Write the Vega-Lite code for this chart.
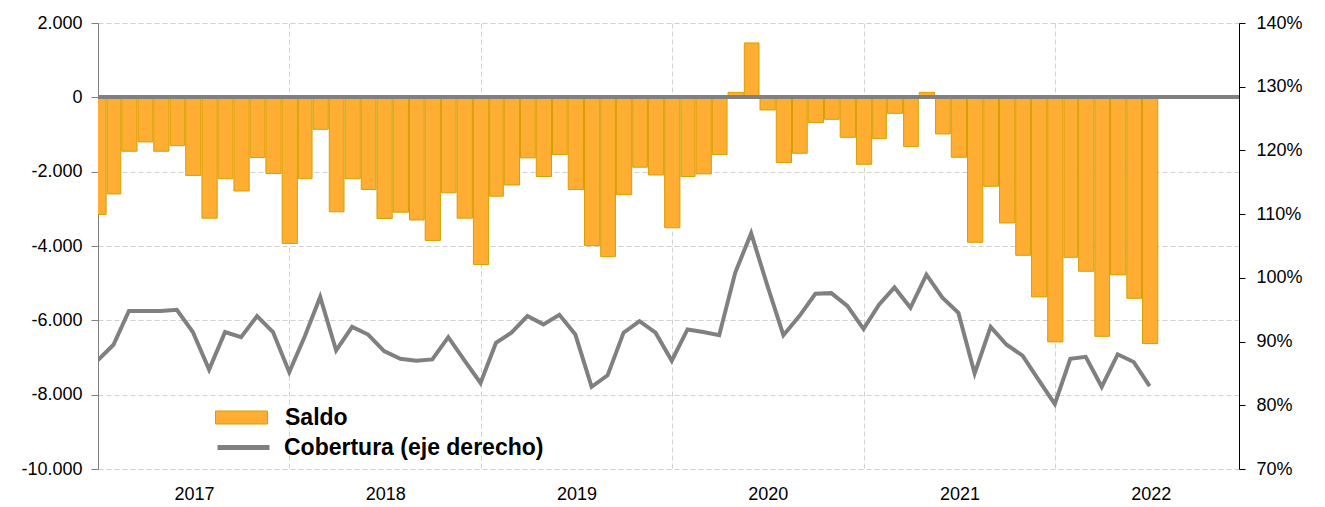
{
  "$schema": "https://vega.github.io/schema/vega-lite/v6.json",
  "width": 1141,
  "height": 446,
  "autosize": {"type": "none"},
  "padding": {"left": 98, "top": 23, "right": 86, "bottom": 38},
  "config": {
    "font": "Liberation Sans",
    "view": {"stroke": null},
    "axis": {"labelFont": "Liberation Sans", "labelColor": "#000000", "labelFontSize": 18}
  },
  "data": {
    "values": [
      {"d": "2017-01-01", "saldo": -3150, "cob": 0.871},
      {"d": "2017-02-01", "saldo": -2600, "cob": 0.895},
      {"d": "2017-03-01", "saldo": -1450, "cob": 0.948},
      {"d": "2017-04-01", "saldo": -1200, "cob": 0.948},
      {"d": "2017-05-01", "saldo": -1450, "cob": 0.948},
      {"d": "2017-06-01", "saldo": -1300, "cob": 0.950},
      {"d": "2017-07-01", "saldo": -2100, "cob": 0.915},
      {"d": "2017-08-01", "saldo": -3250, "cob": 0.856},
      {"d": "2017-09-01", "saldo": -2190, "cob": 0.915},
      {"d": "2017-10-01", "saldo": -2520, "cob": 0.907},
      {"d": "2017-11-01", "saldo": -1620, "cob": 0.940},
      {"d": "2017-12-01", "saldo": -2050, "cob": 0.915},
      {"d": "2018-01-01", "saldo": -3930, "cob": 0.852},
      {"d": "2018-02-01", "saldo": -2190, "cob": 0.908},
      {"d": "2018-03-01", "saldo": -860, "cob": 0.970},
      {"d": "2018-04-01", "saldo": -3080, "cob": 0.886},
      {"d": "2018-05-01", "saldo": -2190, "cob": 0.923},
      {"d": "2018-06-01", "saldo": -2480, "cob": 0.911},
      {"d": "2018-07-01", "saldo": -3260, "cob": 0.885},
      {"d": "2018-08-01", "saldo": -3090, "cob": 0.873},
      {"d": "2018-09-01", "saldo": -3300, "cob": 0.870},
      {"d": "2018-10-01", "saldo": -3850, "cob": 0.872},
      {"d": "2018-11-01", "saldo": -2570, "cob": 0.907},
      {"d": "2018-12-01", "saldo": -3250, "cob": 0.871},
      {"d": "2019-01-01", "saldo": -4500, "cob": 0.835},
      {"d": "2019-02-01", "saldo": -2660, "cob": 0.898},
      {"d": "2019-03-01", "saldo": -2360, "cob": 0.914},
      {"d": "2019-04-01", "saldo": -1630, "cob": 0.940},
      {"d": "2019-05-01", "saldo": -2130, "cob": 0.927},
      {"d": "2019-06-01", "saldo": -1540, "cob": 0.942},
      {"d": "2019-07-01", "saldo": -2480, "cob": 0.911},
      {"d": "2019-08-01", "saldo": -3990, "cob": 0.829},
      {"d": "2019-09-01", "saldo": -4290, "cob": 0.847},
      {"d": "2019-10-01", "saldo": -2620, "cob": 0.914},
      {"d": "2019-11-01", "saldo": -1880, "cob": 0.932},
      {"d": "2019-12-01", "saldo": -2090, "cob": 0.914},
      {"d": "2020-01-01", "saldo": -3510, "cob": 0.870},
      {"d": "2020-02-01", "saldo": -2130, "cob": 0.919},
      {"d": "2020-03-01", "saldo": -2060, "cob": 0.915},
      {"d": "2020-04-01", "saldo": -1540, "cob": 0.910},
      {"d": "2020-05-01", "saldo": 134, "cob": 1.008},
      {"d": "2020-06-01", "saldo": 1463, "cob": 1.070},
      {"d": "2020-07-01", "saldo": -340, "cob": 0.989},
      {"d": "2020-08-01", "saldo": -1757, "cob": 0.910},
      {"d": "2020-09-01", "saldo": -1505, "cob": 0.940},
      {"d": "2020-10-01", "saldo": -680, "cob": 0.975},
      {"d": "2020-11-01", "saldo": -591, "cob": 0.976},
      {"d": "2020-12-01", "saldo": -1076, "cob": 0.956},
      {"d": "2021-01-01", "saldo": -1801, "cob": 0.920},
      {"d": "2021-02-01", "saldo": -1111, "cob": 0.958},
      {"d": "2021-03-01", "saldo": -430, "cob": 0.985},
      {"d": "2021-04-01", "saldo": -1326, "cob": 0.953},
      {"d": "2021-05-01", "saldo": 134, "cob": 1.005},
      {"d": "2021-06-01", "saldo": -985, "cob": 0.969},
      {"d": "2021-07-01", "saldo": -1613, "cob": 0.945},
      {"d": "2021-08-01", "saldo": -3900, "cob": 0.850},
      {"d": "2021-09-01", "saldo": -2393, "cob": 0.923},
      {"d": "2021-10-01", "saldo": -3380, "cob": 0.895},
      {"d": "2021-11-01", "saldo": -4250, "cob": 0.878},
      {"d": "2021-12-01", "saldo": -5370, "cob": 0.840},
      {"d": "2022-01-01", "saldo": -6580, "cob": 0.802},
      {"d": "2022-02-01", "saldo": -4304, "cob": 0.873},
      {"d": "2022-03-01", "saldo": -4680, "cob": 0.876},
      {"d": "2022-04-01", "saldo": -6430, "cob": 0.829},
      {"d": "2022-05-01", "saldo": -4777, "cob": 0.880},
      {"d": "2022-06-01", "saldo": -5407, "cob": 0.868},
      {"d": "2022-07-01", "saldo": -6625, "cob": 0.830}
    ]
  },
  "layer": [
    {
      "layer": [
        {
          "mark": {"type": "bar", "stroke": "#D4A000", "strokeWidth": 1, "clip": true},
          "encoding": {
            "x": {
              "field": "d", "type": "temporal", "timeUnit": "utcyearmonth",
              "scale": {"nice": false, "domain": [
                {"year": 2017, "month": 1, "date": 16, "hours": 12, "utc": true},
                {"year": 2023, "month": 1, "date": 3, "utc": true}
              ]},
              "axis": {
                "title": null,
                "values": [
                  {"year": 2017, "month": 1, "date": 16, "hours": 12, "utc": true},
                  {"year": 2018, "month": 1, "date": 16, "hours": 12, "utc": true},
                  {"year": 2019, "month": 1, "date": 16, "hours": 12, "utc": true},
                  {"year": 2020, "month": 1, "date": 16, "hours": 12, "utc": true},
                  {"year": 2021, "month": 1, "date": 16, "hours": 12, "utc": true},
                  {"year": 2022, "month": 1, "date": 16, "hours": 12, "utc": true}
                ],
                "labelExpr": "utcFormat(datum.value, '%Y')",
                "labelOffset": 96,
                "labelFlush": false,
                "labelOverlap": false,
                "labelBound": false,
                "domain": false,
                "ticks": false,
                "tickSize": 0,
                "labelPadding": 16,
                "grid": true,
                "gridColor": "#D0D0D0",
                "gridDash": [5, 3],
                "gridWidth": 1
              }
            },
            "y": {
              "field": "saldo", "type": "quantitative",
              "scale": {"domain": [-10000, 2000], "nice": false},
              "axis": {
                "title": null,
                "values": [-10000, -8000, -6000, -4000, -2000, 0, 2000],
                "labelExpr": "(datum.value < 0 ? '-' : '') + replace(format(abs(datum.value), ','), ',', '.')",
                "domainColor": "#808080",
                "tickColor": "#808080",
                "tickSize": 7,
                "labelPadding": 9,
                "grid": true,
                "gridColor": "#D0D0D0",
                "gridDash": [5, 3],
                "gridWidth": 1
              }
            },
            "fill": {
              "datum": "Saldo",
              "scale": {"range": ["#FFAD33"]},
              "legend": {
                "title": null,
                "orient": "none",
                "legendX": 117,
                "legendY": 368,
                "padding": 0,
                "symbolType": "M-1,-0.25H1V0.25H-1Z",
                "symbolSize": 2704,
                "symbolStrokeColor": "#D4A000",
                "symbolStrokeWidth": 1,
                "symbolOpacity": 1,
                "labelFont": "Liberation Sans",
                "labelFontSize": 23,
                "labelFontWeight": "bold",
                "labelColor": "#000000",
                "labelOffset": 17,
                "labelLimit": 500
              }
            }
          }
        },
        {
          "mark": {"type": "rule", "color": "#808080", "strokeWidth": 3},
          "encoding": {"y": {"datum": 0}}
        }
      ]
    },
    {
      "mark": {"type": "line", "strokeWidth": 4, "clip": true},
      "encoding": {
        "x": {
          "field": "d", "type": "temporal", "timeUnit": "utcyearmonth", "bandPosition": 0.5,
          "scale": {"nice": false, "domain": [
            {"year": 2017, "month": 1, "date": 16, "hours": 12, "utc": true},
            {"year": 2023, "month": 1, "date": 3, "utc": true}
          ]}
        },
        "y": {
          "field": "cob", "type": "quantitative",
          "scale": {"domain": [0.7, 1.4], "nice": false},
          "axis": {
            "orient": "right",
            "title": null,
            "values": [0.7, 0.8, 0.9, 1.0, 1.1, 1.2, 1.3, 1.4],
            "format": ".0%",
            "domainColor": "#000000",
            "tickColor": "#000000",
            "tickSize": 6,
            "labelPadding": 11,
            "grid": false
          }
        },
        "stroke": {
          "datum": "Cobertura (eje derecho)",
          "scale": {"range": ["#808080"]},
          "legend": {
            "title": null,
            "orient": "none",
            "legendX": 117,
            "legendY": 396,
            "padding": 0,
            "symbolType": "stroke",
            "symbolSize": 2704,
            "symbolStrokeWidth": 5,
            "labelFont": "Liberation Sans",
            "labelFontSize": 23,
            "labelFontWeight": "bold",
            "labelColor": "#000000",
            "labelOffset": 12,
            "labelLimit": 500
          }
        }
      }
    }
  ],
  "resolve": {"scale": {"y": "independent"}}
}
